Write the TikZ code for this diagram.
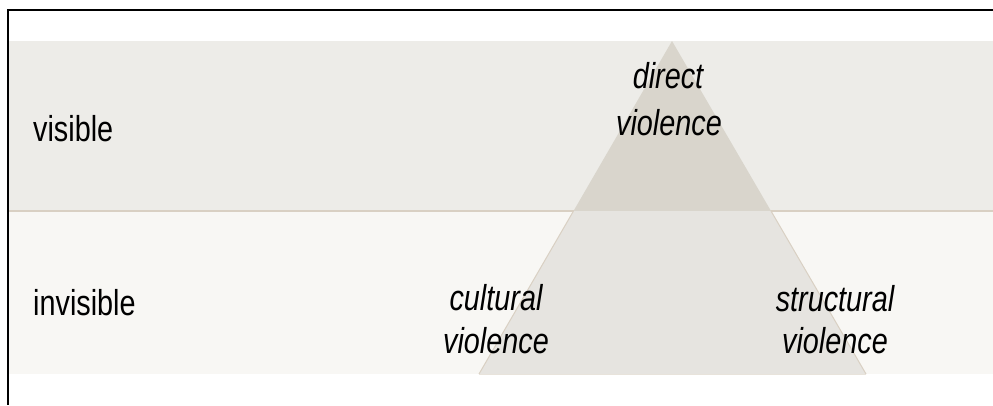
\documentclass[tikz,border=0pt]{standalone}
\usepackage{fontspec}
\newfontfamily\labfont[FakeStretch=0.8]{Liberation Sans}
\definecolor{bandtop}{HTML}{EDECE8}
\definecolor{bandbot}{HTML}{F8F7F4}
\definecolor{tritop}{HTML}{D9D5CC}
\definecolor{tribot}{HTML}{E6E4E0}
\definecolor{edgecol}{HTML}{D9D0C3}
\tikzset{
  lab/.style={font=\labfont\fontsize{36}{40}\selectfont, text=black, inner sep=0pt, anchor=base},
  ilab/.style={lab, font=\labfont\itshape\fontsize{36}{40}\selectfont},
}
\begin{document}
\begin{tikzpicture}[x=1pt,y=-1pt]
\useasboundingbox (0,0) rectangle (993,405);
\fill[white] (0,0) rectangle (993,405);
% bands
\fill[bandtop] (9,41) rectangle (993,211);
\fill[bandbot] (9,211) rectangle (993,374);
\coordinate (sepL) at (9,211);
\coordinate (sepR) at (993,211);
\draw[edgecol, line width=1.5pt] (sepL) -- (sepR);
% triangle
\coordinate (apex) at (672,41);
\coordinate (bl) at (479,374);
\coordinate (br) at (866,374);
\coordinate (ml) at (573.5,211);
\coordinate (mr) at (771,211);
\fill[tritop] (apex) -- (ml) -- (mr) -- cycle;
\fill[tribot] (ml) -- (bl) -- (br) -- (mr) -- cycle;
\draw[edgecol, line width=1pt] (ml) -- (bl);
\draw[edgecol, line width=1pt] (mr) -- (br);
\draw[edgecol!60, line width=0.8pt] (bl) -- (br);
% border
\coordinate (tl) at (8,10);
\coordinate (tr) at (993,10);
\coordinate (bot) at (8,405);
\draw[black, line width=2pt] (tr) -- (tl) -- (bot);
% labels
\node[lab, anchor=base west] (vis) at (33,141) {visible};
\node[lab, anchor=base west] (invis) at (33,315) {invisible};
\node[ilab] (d1) at (668,88) {direct};
\node[ilab] (d2) at (669,135) {violence};
\node[ilab] (c1) at (496,310) {cultural};
\node[ilab] (c2) at (496,353) {violence};
\node[ilab] (s1) at (835,311) {structural};
\node[ilab] (s2) at (835,353) {violence};
\end{tikzpicture}
\end{document}
